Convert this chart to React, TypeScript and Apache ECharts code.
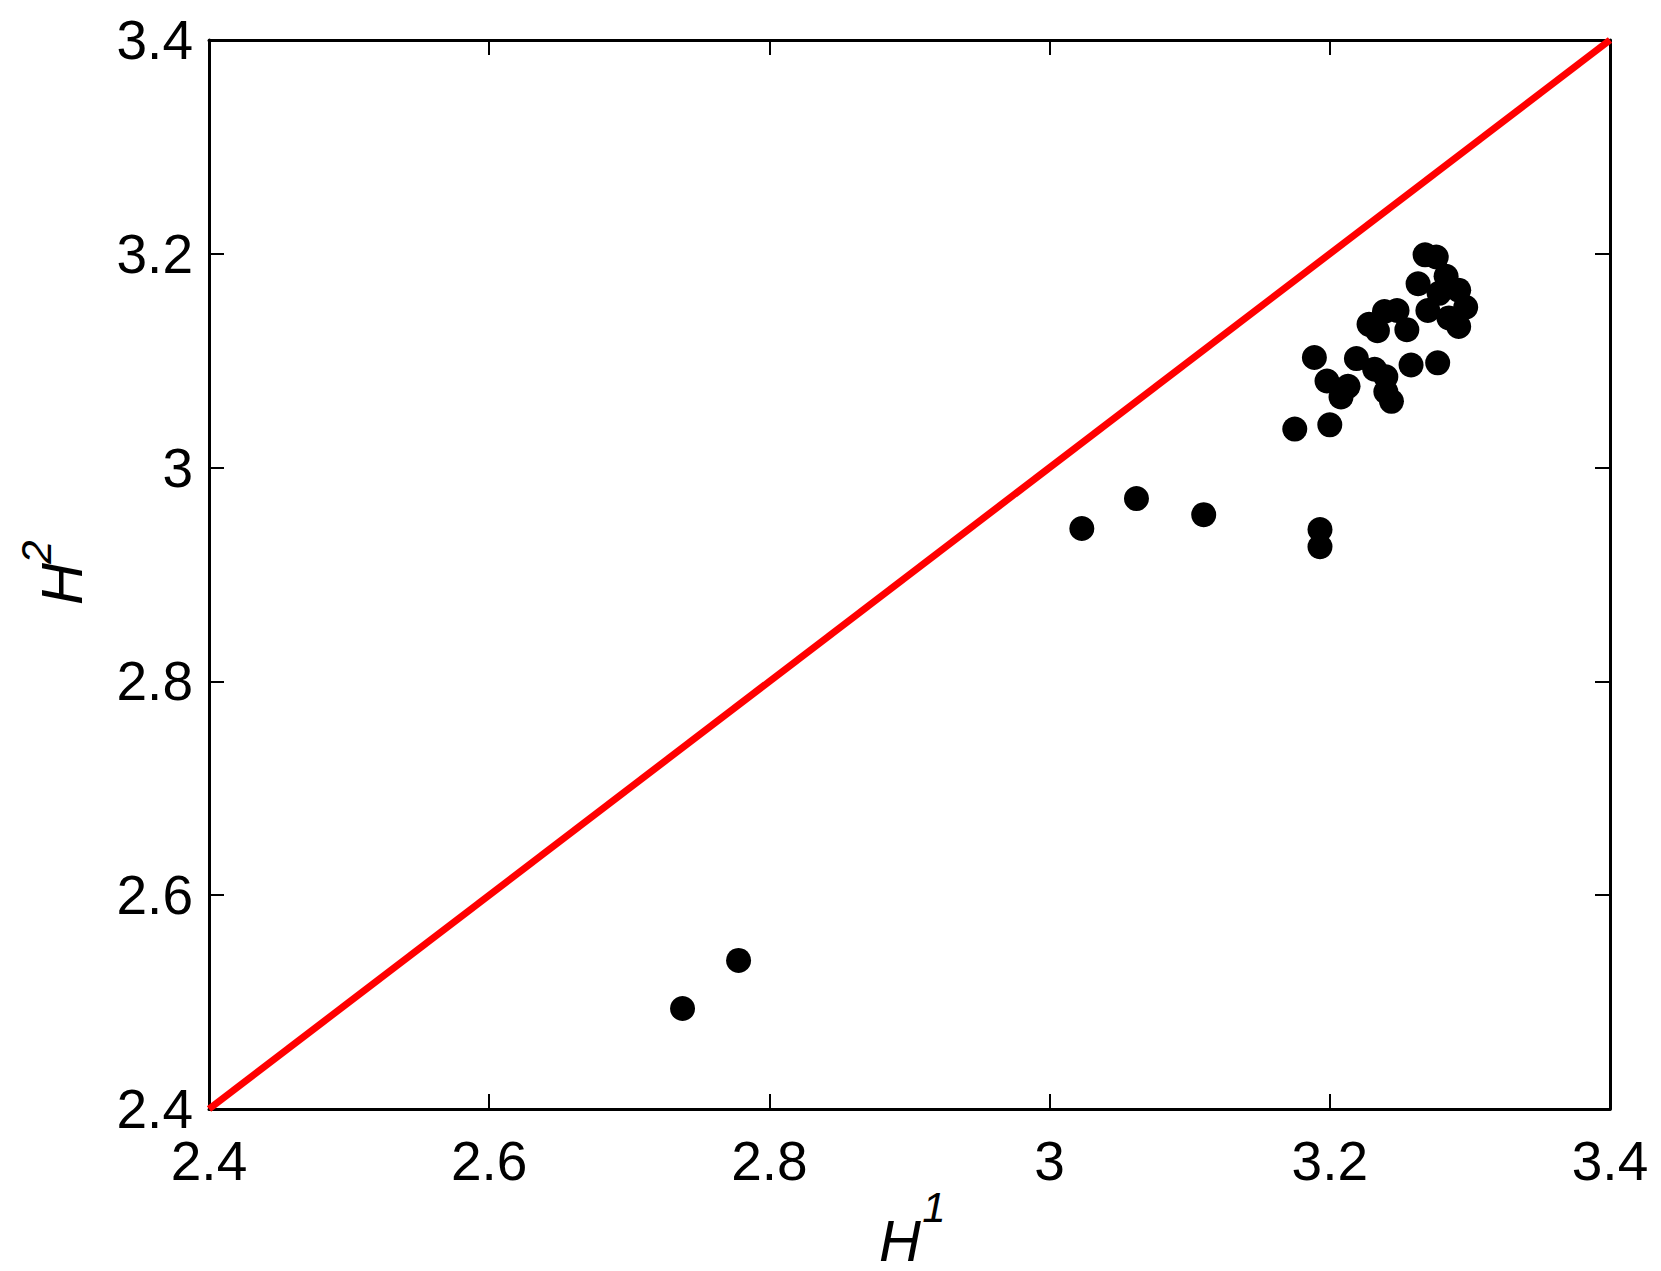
import React, { useEffect, useRef } from "react";
import * as echarts from "echarts";

const h1Values = [
  2.738, 2.778, 3.023, 3.062, 3.110, 3.193, 3.193, 3.175, 3.200, 3.189,
  3.198, 3.213, 3.208, 3.219, 3.232, 3.240, 3.240, 3.244, 3.258, 3.277,
  3.228, 3.234, 3.239, 3.248, 3.255, 3.268, 3.276, 3.263, 3.283, 3.292,
  3.297, 3.278, 3.270, 3.292, 3.285,
];
const h2Values = [
  2.494, 2.539, 2.943, 2.971, 2.956, 2.942, 2.926, 3.036, 3.040, 3.103,
  3.081, 3.076, 3.066, 3.102, 3.092, 3.085, 3.071, 3.062, 3.096, 3.098,
  3.134, 3.128, 3.146, 3.147, 3.129, 3.199, 3.197, 3.172, 3.179, 3.166,
  3.150, 3.163, 3.147, 3.132, 3.140,
];
const identityLine = [
  [2.4, 2.4],
  [3.4, 3.4],
];
const axisMin = 2.4;
const axisMax = 3.4;
const axisStep = 0.2;

const FONT = "'Liberation Sans', Arial, sans-serif";

export default function App() {
  const ref = useRef<HTMLDivElement>(null);
  useEffect(() => {
    if (!ref.current) return;
    const chart = echarts.init(ref.current, null, { renderer: "svg" });
    const points = h1Values.map((x, i) => [x, h2Values[i]]);
    const fmt = (v: number) => String(+v.toFixed(1));
    const baseAxis = {
      type: "value" as const,
      min: axisMin,
      max: axisMax,
      interval: axisStep,
      splitLine: { show: false },
      axisLine: { show: true, onZero: false, lineStyle: { color: "#000", width: 3 } },
      axisTick: { show: true, inside: true, length: 15, lineStyle: { color: "#000", width: 2 } },
    };
    chart.setOption({
      animation: false,
      backgroundColor: "#fff",
      grid: { left: 209, top: 40, width: 1401, height: 1069, containLabel: false },
      xAxis: [
        {
          ...baseAxis,
          position: "bottom",
          axisLabel: { show: true, margin: 24, color: "#000", fontSize: 55, fontFamily: FONT, formatter: fmt },
        },
        { ...baseAxis, position: "top", axisLabel: { show: false } },
      ],
      yAxis: [
        {
          ...baseAxis,
          position: "left",
          axisLabel: { show: true, margin: 16, color: "#000", fontSize: 55, fontFamily: FONT, formatter: fmt },
        },
        { ...baseAxis, position: "right", axisLabel: { show: false } },
      ],
      series: [
        {
          type: "line",
          data: identityLine,
          symbol: "none",
          lineStyle: { color: "#ff0000", width: 7 },
          z: 1,
        },
        {
          type: "scatter",
          data: points,
          symbol: "circle",
          symbolSize: 25,
          itemStyle: { color: "#000", opacity: 1 },
          z: 2,
        },
      ],
      graphic: [
        {
          type: "text",
          x: 900,
          y: 1240,
          style: { text: "H", font: `italic 58px ${FONT}`, fill: "#000", align: "center", verticalAlign: "middle" },
        },
        {
          type: "text",
          x: 934,
          y: 1207,
          style: { text: "1", font: `italic 42px ${FONT}`, fill: "#000", align: "center", verticalAlign: "middle" },
        },
        {
          type: "text",
          x: 61,
          y: 584,
          rotation: Math.PI / 2,
          style: { text: "H", font: `italic 58px ${FONT}`, fill: "#000", align: "center", verticalAlign: "middle" },
        },
        {
          type: "text",
          x: 36,
          y: 552,
          rotation: Math.PI / 2,
          style: { text: "2", font: `italic 42px ${FONT}`, fill: "#000", align: "center", verticalAlign: "middle" },
        },
      ],
    });
    return () => chart.dispose();
  }, []);
  return (
    <div
      ref={ref}
      style={{ position: "absolute", left: 0, top: 0, width: 1661, height: 1271, background: "#fff" }}
    />
  );
}
